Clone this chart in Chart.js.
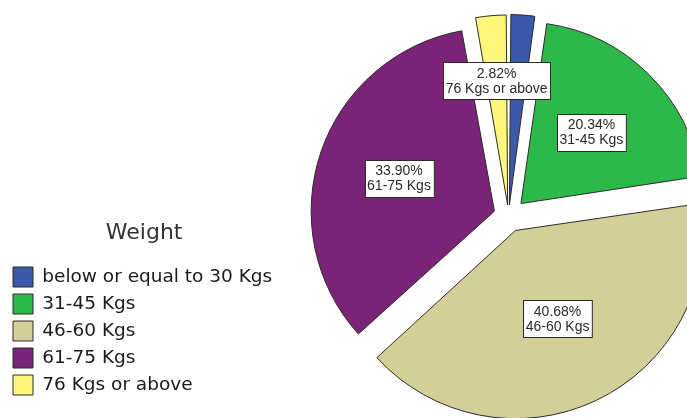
<!DOCTYPE html>
<html>
<head>
<meta charset="utf-8">
<script src="https://cdn.jsdelivr.net/npm/chart.js@4/dist/chart.umd.min.js"></script>
<style>
  html, body { margin: 0; padding: 0; background: #ffffff; overflow: hidden; }
  #wrap { position: absolute; left: 0; top: 0; width: 735px; height: 418px; }
</style>
</head>
<body>
<div id="wrap"><canvas id="c" width="735" height="418"></canvas></div>
<script>
// ---- data ----
const legendTitle = 'Weight';
const categories = ['below or equal to 30 Kgs', '31-45 Kgs', '46-60 Kgs', '61-75 Kgs', '76 Kgs or above'];
const percentages = [2.26, 20.34, 40.68, 33.90, 2.82];
const labelShown = [false, true, true, true, true];

// ---- styles ----
const sliceColors = ['#3b59aa', '#2db84a', '#d4cf98', '#7b2477', '#fff67c'];
const sliceOffsets = [44, 70, 64, 60, 44];
const labelRadius = [0.64, 0.65, 0.63, 0.64, 0.75];

const sliceLabels = {
  id: 'sliceLabels',
  afterDatasetsDraw(chart) {
    const ctx = chart.ctx;
    const meta = chart.getDatasetMeta(0);
    ctx.save();
    ctx.font = '14px "Liberation Sans", Arial, sans-serif';
    ctx.textAlign = 'center';
    ctx.textBaseline = 'middle';
    meta.data.forEach((arc, i) => {
      if (!labelShown[i]) return;
      const p = arc.getProps(['x', 'y', 'startAngle', 'endAngle'], true);
      const r = chart.options.radius;
      const mid = (p.startAngle + p.endAngle) / 2;
      const d = r * labelRadius[i];
      const lx = p.x + Math.cos(mid) * d;
      const ly = p.y + Math.sin(mid) * d;
      const l1 = percentages[i].toFixed(2) + '%';
      const l2 = categories[i];
      const w = Math.max(ctx.measureText(l1).width, ctx.measureText(l2).width) + 5;
      const lh = 15;
      const h = lh * 2 + 7;
      const bx = Math.round(lx - w / 2) + 0.5;
      const by = Math.round(ly - h / 2) + 0.5;
      ctx.fillStyle = '#ffffff';
      ctx.fillRect(bx, by, w, h);
      ctx.strokeStyle = '#2b2b2b';
      ctx.lineWidth = 1;
      ctx.strokeRect(bx, by, w, h);
      ctx.fillStyle = '#2b2b2b';
      ctx.fillText(l1, lx, ly - lh / 2 + 0.5);
      ctx.fillText(l2, lx, ly + lh / 2 + 0.5);
    });
    ctx.restore();
  }
};

new Chart(document.getElementById('c'), {
  type: 'pie',
  data: {
    labels: categories,
    datasets: [{
      data: percentages,
      backgroundColor: sliceColors,
      borderColor: '#2b2b2b',
      borderWidth: 1,
      offset: sliceOffsets,
      hoverOffset: 0
    }]
  },
  options: {
    responsive: false,
    devicePixelRatio: 1,
    animation: false,
    radius: 181,
    layout: { padding: { left: 6, right: 0, top: 30, bottom: 16 } },
    plugins: {
      tooltip: { enabled: false },
      legend: {
        position: 'left',
        align: 'end',
        title: {
          display: true,
          text: legendTitle,
          color: '#333333',
          font: { family: '"DejaVu Sans", sans-serif', size: 22 },
          padding: { top: 0, bottom: 11 }
        },
        labels: {
          boxWidth: 20,
          boxHeight: 20,
          padding: 7,
          color: '#1a1a1a',
          font: { family: '"DejaVu Sans", sans-serif', size: 18.5 }
        }
      }
    }
  },
  plugins: [sliceLabels]
});
</script>
</body>
</html>
